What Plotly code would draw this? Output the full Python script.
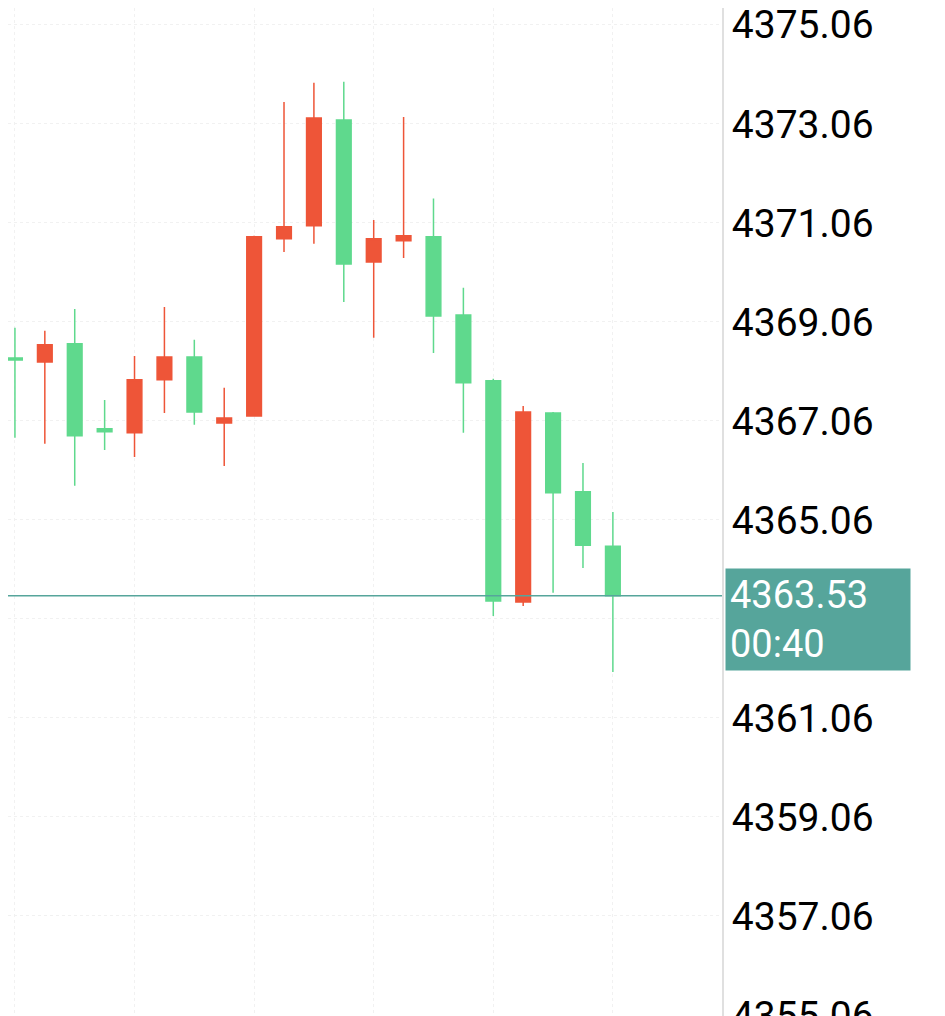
import plotly.graph_objects as go

# candle data (red = up, green = down)
idx = list(range(21))
opens = [4368.33, 4368.25, 4368.62, 4366.90, 4366.82, 4367.89, 4368.35, 4367.02, 4367.16, 4370.74,
         4371.00, 4373.14, 4370.27, 4370.70, 4370.78, 4369.20, 4367.87, 4363.40, 4367.22, 4365.63, 4364.53]
highs = [4368.94, 4368.88, 4369.32, 4367.48, 4368.37, 4369.36, 4368.70, 4367.73, 4370.80, 4373.50,
         4373.89, 4373.91, 4371.12, 4373.20, 4371.55, 4369.75, 4367.91, 4367.36, 4367.24, 4366.21, 4365.22]
lows = [4366.72, 4366.60, 4365.75, 4366.47, 4366.33, 4367.22, 4366.98, 4366.15, 4367.16, 4370.47,
        4370.64, 4369.46, 4368.74, 4370.35, 4368.43, 4366.82, 4363.12, 4363.32, 4363.59, 4364.09, 4361.99]
closes = [4368.29, 4368.60, 4366.76, 4366.84, 4367.89, 4368.35, 4367.24, 4367.12, 4370.78, 4370.98,
          4373.18, 4370.23, 4370.74, 4370.80, 4369.18, 4367.83, 4363.42, 4367.24, 4365.61, 4364.55, 4363.53]
last_price = 4363.53
countdown = "00:40"
tick_vals = [4355.06 + 2 * i for i in range(11)]

RED = '#ee5538'
GREEN = '#5fd98d'
TEAL = '#56a59b'

fig = go.Figure(go.Candlestick(
    x=idx, open=opens, high=highs, low=lows, close=closes,
    increasing=dict(line=dict(color=RED, width=1.5), fillcolor=RED),
    decreasing=dict(line=dict(color=GREEN, width=1.5), fillcolor=GREEN),
    whiskerwidth=0,
    showlegend=False,
))

fig.add_hline(y=last_price, line=dict(color=TEAL, width=1.5))

fig.add_annotation(
    x=1, xref='paper', xanchor='left', xshift=3,
    y=last_price, yref='y', yanchor='middle', yshift=-24,
    text=f"{last_price:.2f}<br>{countdown}", align='left',
    showarrow=False, bgcolor=TEAL, borderpad=4, width=176,
    font=dict(family='Roboto', size=38, color='white'),
)

# page body has an 8px margin, so the plot is placed to compensate
fig.update_layout(
    width=945, height=1016,
    margin=dict(l=0, r=231, t=0, b=8, pad=0),
    plot_bgcolor='white', paper_bgcolor='white',
    xaxis=dict(range=[-0.232, 23.65], rangeslider=dict(visible=False), showticklabels=False,
               showgrid=True, gridcolor='#f1f1f1', griddash='dot', dtick=4, tick0=0, zeroline=False,
               automargin=False),
    yaxis=dict(range=[4355.04, 4375.40], side='right', tickvals=tick_vals,
               ticktext=[f"{v:.2f}" for v in tick_vals], ticklabeloverflow='allow',
               tickfont=dict(family='Roboto', size=39, color='black'),
               showgrid=True, gridcolor='#f1f1f1', griddash='dot', zeroline=False, automargin=False,
               showline=True, linecolor='#e0e0e0', linewidth=2, ticks='', ticklen=0),
)

fig.write_html("out.html")
